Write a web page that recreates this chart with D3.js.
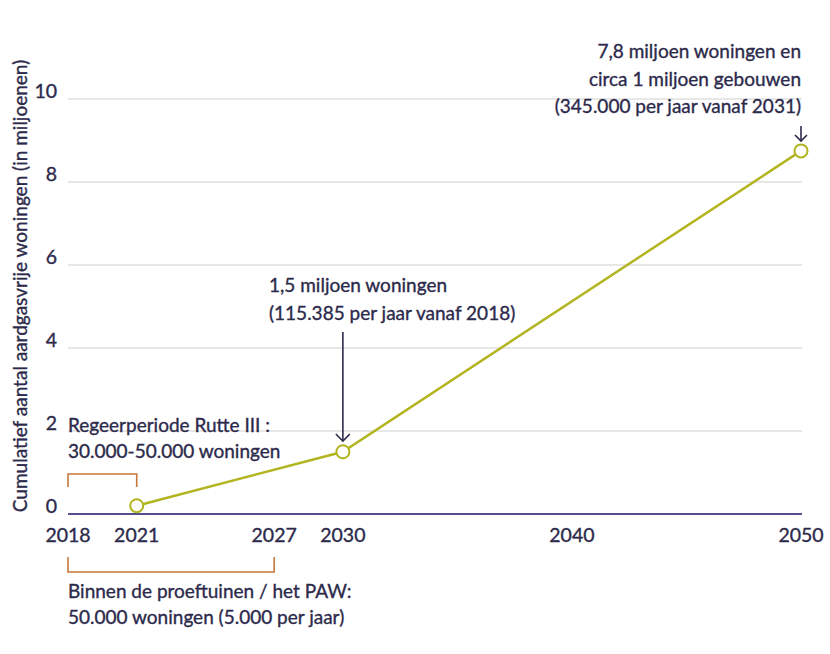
<!DOCTYPE html>
<html>
<head>
<meta charset="utf-8">
<script src="https://cdn.jsdelivr.net/npm/d3@7/dist/d3.min.js"></script>
<style>
  html, body { margin: 0; padding: 0; background: #ffffff; }
  svg { display: block; }
  text { font-family: Lato, "Open Sans", sans-serif; fill: #2c2a4b; stroke: #2c2a4b; stroke-width: 0.35px; }
</style>
</head>
<body>
<svg id="chart" width="830" height="654"></svg>
<script>
// ---- data ----
const years = [2021, 2030, 2050];
const values = [0.2, 1.5, 8.75]; // cumulative, millions
const xTickYears = [2018, 2021, 2027, 2030, 2040, 2050];
const yTickValues = [0, 2, 4, 6, 8, 10];
const yAxisTitle = "Cumulatief aantal aardgasvrije woningen (in miljoenen)";
const noteTop = ["7,8 miljoen woningen en", "circa 1 miljoen gebouwen", "(345.000 per jaar vanaf 2031)"];
const noteMid = ["1,5 miljoen woningen", "(115.385 per jaar vanaf 2018)"];
const noteRutte = ["Regeerperiode Rutte III :", "30.000-50.000 woningen"];
const notePAW = ["Binnen de proeftuinen / het PAW:", "50.000 woningen (5.000 per jaar)"];
const bracketRutte = [2018, 2021];
const bracketPAW = [2018, 2027];

// ---- chart ----
const svg = d3.select("#chart");
const x = d3.scaleLinear().domain([2018, 2050]).range([68, 801]);
const y = d3.scaleLinear().domain([0, 10]).range([514, 99]);

const dark = "#2c2a4b";
const olive = "#b3b520";
const orange = "#c9773a";
const fs = 19;

// gridlines
svg.append("g").selectAll("line")
  .data(yTickValues.filter(d => d > 0))
  .join("line")
  .attr("x1", x(2018)).attr("x2", x(2050) + 1)
  .attr("y1", d => y(d)).attr("y2", d => y(d))
  .attr("stroke", "#cfcfcf").attr("stroke-width", 1);

// baseline
svg.append("line")
  .attr("x1", x(2018)).attr("x2", x(2050) + 1)
  .attr("y1", y(0)).attr("y2", y(0))
  .attr("stroke", "#574e8f").attr("stroke-width", 2);

// y tick labels
svg.append("g").selectAll("text")
  .data(yTickValues)
  .join("text")
  .attr("x", 57).attr("y", d => y(d) - 1)
  .attr("text-anchor", "end")
  .attr("font-size", 19.5)
  .text(d => d);

// x tick labels
svg.append("g").selectAll("text")
  .data(xTickYears)
  .join("text")
  .attr("x", d => x(d)).attr("y", 542)
  .attr("text-anchor", "middle")
  .attr("font-size", 19.5)
  .text(d => d);

// y axis title
svg.append("text")
  .attr("transform", `translate(27, 286) rotate(-90)`)
  .attr("text-anchor", "middle")
  .attr("font-size", 19)
  .text(yAxisTitle);

// line
const line = d3.line().x((d, i) => x(years[i])).y(d => y(d));
svg.append("path")
  .datum(values)
  .attr("d", line)
  .attr("fill", "none")
  .attr("stroke", olive)
  .attr("stroke-width", 2.5);

svg.append("g").selectAll("circle")
  .data(values)
  .join("circle")
  .attr("cx", (d, i) => x(years[i]))
  .attr("cy", d => y(d))
  .attr("r", 6.5)
  .attr("fill", "#ffffff")
  .attr("stroke", olive)
  .attr("stroke-width", 2);

// helper: multi-line text
function note(lines, xPos, yPos, anchor, lh) {
  const t = svg.append("text")
    .attr("x", xPos).attr("y", yPos)
    .attr("text-anchor", anchor)
    .attr("font-size", fs);
  lines.forEach((l, i) => {
    t.append("tspan").attr("x", xPos).attr("y", yPos + i * lh).text(l);
  });
}

// arrows
function arrow(xPos, y1, y2, head) {
  svg.append("line")
    .attr("x1", xPos).attr("x2", xPos)
    .attr("y1", y1).attr("y2", y2)
    .attr("stroke", dark).attr("stroke-width", 1.6);
  svg.append("path")
    .attr("d", `M${xPos - head},${y2 - head} L${xPos},${y2} L${xPos + head},${y2 - head}`)
    .attr("fill", "none")
    .attr("stroke", dark).attr("stroke-width", 1.6);
}

note(noteTop, 801, 58, "end", 27.5);
arrow(x(2050), 126, 141, 6);

note(noteMid, 269, 292, "start", 28);
arrow(x(2030), 332, 441, 7);

note(noteRutte, 68, 432, "start", 26);
note(notePAW, 68, 598, "start", 26);

// brackets
svg.append("path")
  .attr("d", `M${x(bracketRutte[0])},487 V474 H${x(bracketRutte[1])} V487`)
  .attr("fill", "none").attr("stroke", orange).attr("stroke-width", 1.6);
svg.append("path")
  .attr("d", `M${x(bracketPAW[0])},557 V572 H${x(bracketPAW[1])} V557`)
  .attr("fill", "none").attr("stroke", orange).attr("stroke-width", 1.6);
</script>
</body>
</html>
